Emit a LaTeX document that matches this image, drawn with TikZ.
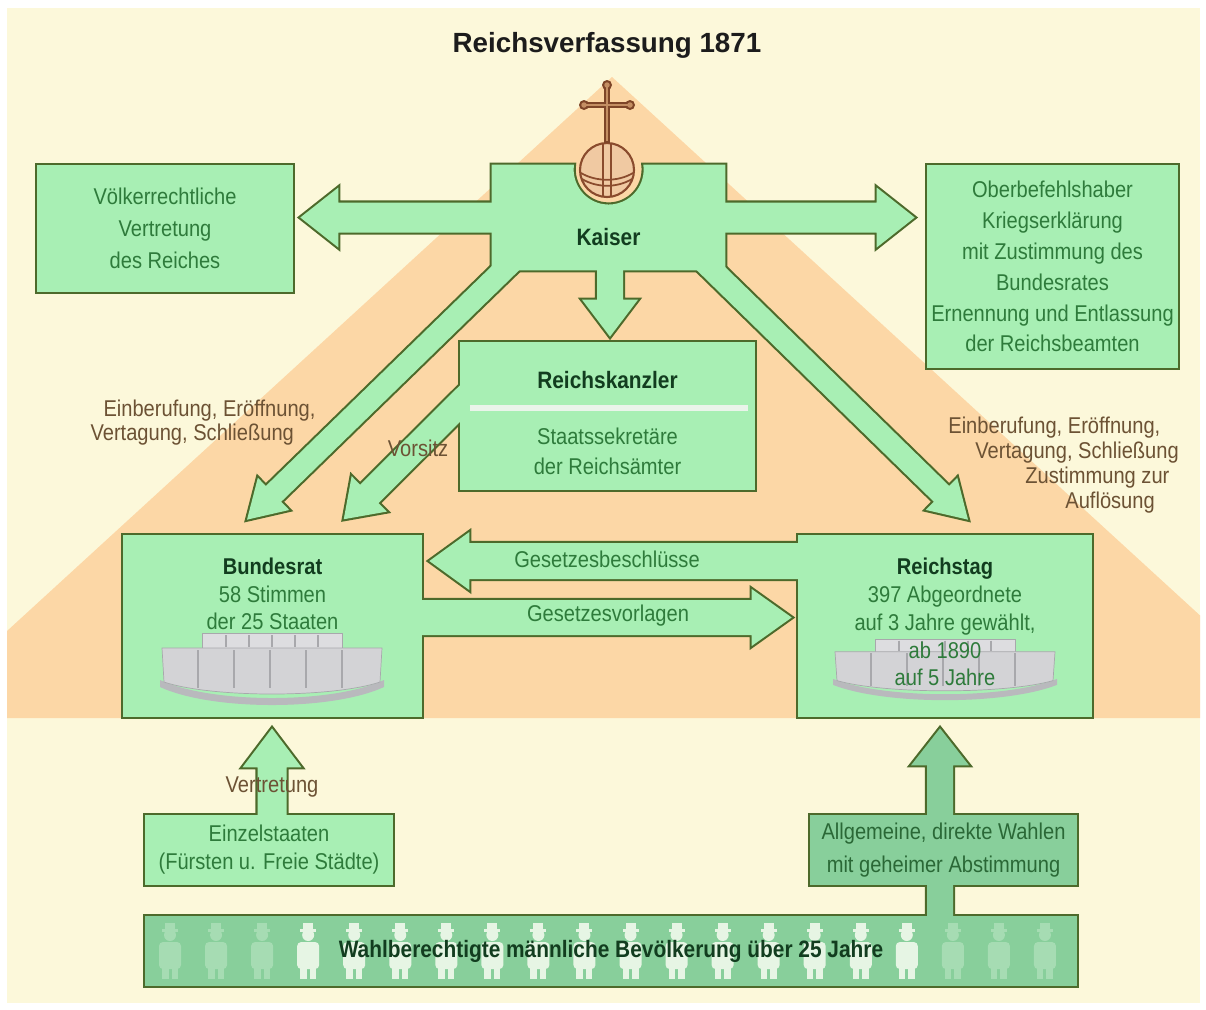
\documentclass[tikz,border=0pt]{standalone}
\usepackage{fontspec}
\setmainfont{Liberation Sans}[FakeStretch=0.88]
\newfontfamily\titlefont{Liberation Sans}
\usetikzlibrary{calc,positioning}

\definecolor{cream}{HTML}{FCF8DA}
\definecolor{peach}{HTML}{FCD7A6}
\definecolor{mint}{HTML}{A8EFB4}
\definecolor{wahlgreen}{HTML}{88CF9B}
\definecolor{edgecol}{HTML}{4D6A2B}
\definecolor{txtgreen}{HTML}{2E7B3B}
\definecolor{wahltext}{HTML}{2A6836}
\definecolor{headgreen}{HTML}{123D1F}
\definecolor{notebrown}{HTML}{6C5234}
\definecolor{titleblack}{HTML}{1C1C1C}
\definecolor{personfade}{HTML}{A6DCB3}
\definecolor{personlight}{HTML}{E6F5E4}
\definecolor{seatfront}{HTML}{D3D3D6}
\definecolor{seatback}{HTML}{DDDDE0}
\definecolor{seatline}{HTML}{A8A8AC}
\definecolor{seatshadow}{HTML}{B9B9BD}
\definecolor{orbfill}{HTML}{F0C9A2}
\definecolor{orbline}{HTML}{8A4B2D}
\definecolor{crossdark}{HTML}{7E4528}
\definecolor{crosslight}{HTML}{C48E63}
\definecolor{sepwhite}{HTML}{EAF4EA}

\pgfdeclarelayer{bg}
\pgfdeclarelayer{outl}
\pgfdeclarelayer{fil}
\pgfdeclarelayer{deco}
\pgfsetlayers{bg,outl,fil,deco,main}

\tikzset{
  blockbox/.style={inner sep=0pt, align=center, text=txtgreen, font=\fontsize{13}{17.5}\selectfont},
  headtext/.style={inner sep=0pt, text=headgreen, font=\fontsize{13.5}{16}\selectfont\bfseries},
  bodytext/.style={inner sep=0pt, align=center, text=txtgreen, font=\fontsize{13}{17}\selectfont},
  notetext/.style={inner sep=0pt, align=left, text=notebrown, font=\fontsize{13}{14}\selectfont},
  edgeline/.style={draw=edgecol, line width=2.4pt, line join=miter},
  seatsep/.style={draw=seatline, line width=0.6pt},
}

% outline below, filling above: touching shapes merge
\newcommand\blockshape[2]{%
  \begin{pgfonlayer}{outl}\draw[edgeline] #2;\end{pgfonlayer}
  \begin{pgfonlayer}{fil}\fill[#1] #2;\end{pgfonlayer}}

% [fill] from, to, half shaft, half head, head length
\newcommand\fatarrow[6][mint]{%
  \blockshape{#1}{let \p1=(#2), \p2=(#3), \n1={atan2(\y2-\y1,\x2-\x1)}, \n2={veclen(\x2-\x1,\y2-\y1)} in
    [shift={(\p1)}, rotate=\n1] (0pt,-#4) -- ({\n2*1pt-#6},-#4) -- ({\n2*1pt-#6},-#5) -- ({\n2*1pt},0pt)
    -- ({\n2*1pt-#6},#5) -- ({\n2*1pt-#6},#4) -- (0pt,#4) -- cycle}}

\newcommand\seats[2]{%
  \begin{scope}[shift={(#1)}, yscale=#2]
    \fill[seatshadow] (-112,14) .. controls (-60,38) and (60,38) .. (112,14) -- (112,21) .. controls (60,45) and (-60,45) .. (-112,21) -- cycle;
    \filldraw[fill=seatback, draw=seatline, line width=0.4pt] (-70,-33) rectangle (70,-17);
    \foreach \seatx in {-46,-23,0,23,46} \draw[seatsep] (\seatx,-31) -- (\seatx,-19);
    \filldraw[fill=seatfront, draw=seatline, line width=0.4pt] (-110,-18) -- (110,-18) -- (108,16) .. controls (60,32) and (-60,32) .. (-108,16) -- cycle;
    \foreach \seatx in {-74,-38,-2,34,70} \draw[seatsep] (\seatx,-16) -- (\seatx,22);
  \end{scope}}

\newcommand\person[2]{%
  \begin{scope}[shift={(#1,951)}]
    \fill[#2] (0,-16) circle[radius=0.12cm];
    \fill[#2] (-5,-28) rectangle (5,-21);
    \fill[#2] (-8,-22) rectangle (8,-19);
    \fill[#2, rounded corners=0.08cm] (-11,-9) rectangle (11,18);
    \fill[#2] (-8,17) rectangle (-1.5,28);
    \fill[#2] (1.5,17) rectangle (8,28);
  \end{scope}}

\begin{document}
\begin{tikzpicture}[x=0.02cm, y=-0.02cm]
  \useasboundingbox (0,0) rectangle (1206,1009);
  %background
  \begin{pgfonlayer}{bg}
    \fill[white] (0,0) rectangle (1206,1009);
    \fill[cream] (7,8) rectangle (1200,1003);
    \begin{scope}
      \clip (7,8) rectangle (1200,1003);
      \fill[peach] (612,77) -- (1312,718) -- (-88,718) -- cycle;
    \end{scope}
  \end{pgfonlayer}

  %nodes
  \node[font=\titlefont\bfseries\fontsize{15.8}{18}\selectfont, text=titleblack] (titel) at (607,45) {Reichsverfassung 1871};
  \node[blockbox, minimum width=5.12cm, minimum height=2.54cm, font=\fontsize{13}{18.2}\selectfont] (voelker) at (165,228.5) {Völkerrechtliche\\Vertretung\\des Reiches};
  \node[blockbox, minimum width=5.02cm, minimum height=4.06cm, font=\fontsize{13}{17.6}\selectfont] (befehl) at (1052.5,266.5) {Oberbefehlshaber\\Kriegserklärung\\mit Zustimmung des\\Bundesrates\\Ernennung und Entlassung\\der Reichsbeamten};
  \node[blockbox, minimum width=4.66cm, minimum height=2.1cm] (kaiser) at (608.5,217.5) {};
  \node[blockbox, minimum width=5.9cm, minimum height=2.96cm] (kanzler) at (607.5,416) {};
  \node[blockbox, minimum width=5.98cm, minimum height=3.64cm] (bundesrat) at (272.5,626) {};
  \node[blockbox, minimum width=5.88cm, minimum height=3.64cm] (reichstag) at (945,626) {};
  \node[blockbox, minimum width=4.96cm, minimum height=1.4cm, font=\fontsize{13}{16}\selectfont] (einzel) at (269,850) {Einzelstaaten\\(Fürsten u. Freie Städte)};
  \node[blockbox, minimum width=5.34cm, minimum height=1.4cm, font=\fontsize{13}{18.8}\selectfont, text=wahltext] (wahlen) at (943.5,850) {Allgemeine, direkte Wahlen\\mit geheimer Abstimmung};
  \node[blockbox, minimum width=18.64cm, minimum height=1.4cm, text=headgreen, font=\fontsize{13.5}{16}\selectfont\bfseries] (volk) at (611,951) {Wahlberechtigte männliche Bevölkerung über 25 Jahre};

  \node[headtext] (kaisertext) at ($(kaiser.north)+(0,72)$) {Kaiser};
  \node[headtext] (kanzlerhead) at ($(kanzler.north)+(0,38)$) {Reichskanzler};
  \node[bodytext] (kanzlersub) at ($(kanzler.north)+(0,110)$) {Staatssekretäre\\der Reichsämter};
  \node[bodytext, font=\fontsize{13}{15.6}\selectfont] (bundesrattext) at ($(bundesrat.north)+(0,59.5)$) {\textcolor{headgreen}{\bfseries Bundesrat}\\58 Stimmen\\der 25 Staaten};
  \node[bodytext, font=\fontsize{13}{15.8}\selectfont] (reichstagtext) at ($(reichstag.north)+(0,87.5)$) {\textcolor{headgreen}{\bfseries Reichstag}\\397 Abgeordnete\\auf 3 Jahre gewählt,\\ab 1890\\auf 5 Jahre};

  \node[bodytext] (beschluss) at (607,559) {Gesetzesbeschlüsse};
  \node[bodytext] (vorlagen) at (608,616) {Gesetzesvorlagen};
  \node[notetext] (vorsitz) at (418,448) {Vorsitz};
  \node[notetext] (vertretung) at (272,787) {Vertretung};
  \node[notetext, font=\fontsize{13}{13.7}\selectfont] (einblinks) at (203,423) {\hspace*{7.4pt}Einberufung, Eröffnung,\\Vertagung, Schließung};
  \node[notetext, anchor=west, font=\fontsize{13}{14.2}\selectfont] (einbrechts) at (948,465.5) {Einberufung, Eröffnung,\\\hspace*{15.4pt}Vertagung, Schließung\\\hspace*{43.8pt}Zustimmung zur\\\hspace*{66.6pt}Auflösung};

  %boxes
  \blockshape{mint}{(voelker.south west) rectangle (voelker.north east)}
  \blockshape{mint}{(befehl.south west) rectangle (befehl.north east)}
  \blockshape{mint}{(kaiser.north west) -- ($(kaiser.north)+(-0.69cm,0pt)$) arc[start angle=172, end angle=368, radius=0.7cm] -- (kaiser.north east) -- (kaiser.south east) -- (kaiser.south west) -- cycle}
  \blockshape{mint}{(kanzler.south west) rectangle (kanzler.north east)}
  \blockshape{mint}{(bundesrat.south west) rectangle (bundesrat.north east)}
  \blockshape{mint}{(reichstag.south west) rectangle (reichstag.north east)}
  \blockshape{mint}{(einzel.south west) rectangle (einzel.north east)}
  \blockshape{wahlgreen}{(wahlen.south west) rectangle (wahlen.north east)}
  \blockshape{wahlgreen}{(volk.south west) rectangle (volk.north east)}

  %edges
  \fatarrow{$(kaiser.west)+(8,0)$}{$(voelker.east |- kaiser.west)+(7,0)$}{0.3cm}{0.6cm}{0.76cm}
  \fatarrow{$(kaiser.east)+(-8,0)$}{$(befehl.west |- kaiser.east)+(-12,0)$}{0.3cm}{0.6cm}{0.76cm}
  \fatarrow{$(kaiser.south)+(1.5,-8)$}{$(kanzler.north)+(2.5,-5)$}{0.26cm}{0.56cm}{0.74cm}
  \fatarrow{$(kaiser.south west)+(27,-15)$}{$(bundesrat.north)+(-25.5,-15)$}{0.22cm}{0.45cm}{0.74cm}
  \fatarrow{$(kaiser.south east)+(-28,-15)$}{$(reichstag.north)+(23,-15)$}{0.22cm}{0.45cm}{0.74cm}
  \fatarrow{$(kanzler.west)+(20,-32)$}{$(bundesrat.north east)+(-79,-15)$}{0.26cm}{0.5cm}{0.72cm}
  \fatarrow{$(reichstag.west)+(8,-65)$}{$(bundesrat.east)+(7,-65)$}{0.36cm}{0.58cm}{0.8cm}
  \fatarrow{$(bundesrat.east)+(-8,-8.5)$}{$(reichstag.west)+(-6,-8.5)$}{0.35cm}{0.57cm}{0.8cm}
  \fatarrow{$(einzel.north)+(3,8)$}{$(bundesrat.south)+(-0.5,11)$}{0.29cm}{0.59cm}{0.78cm}
  \fatarrow[wahlgreen]{$(wahlen.north |- volk.north)+(-3.5,10)$}{$(reichstag.south)+(-5,11)$}{0.26cm}{0.58cm}{0.74cm}

  %pictures
  \begin{pgfonlayer}{deco}
    \draw[sepwhite, line width=0.12cm] ($(kanzler.west)+(10,-8)$) -- ($(kanzler.east)+(-7,-8)$);
    \seats{272,666}{1}
    \seats{945,667}{0.85}
    \foreach \i in {0,...,19}{
      \pgfmathsetmacro\personx{170+46.05*\i}
      \ifnum\i<3 \def\pcol{personfade}\else\ifnum\i>16 \def\pcol{personfade}\else\def\pcol{personlight}\fi\fi
      \person{\personx}{\pcol}
    }
    % orb and cross
    \filldraw[fill=orbfill, draw=orbline, line width=1.2pt] (607,170) circle[radius=0.54cm];
    \draw[orbline, line width=1pt] (581,173) .. controls (596,182) and (618,182) .. (633,173);
    \draw[orbline, line width=1pt] (582,179) .. controls (597,188) and (617,188) .. (632,179);
    \draw[orbline, line width=1pt] (603,143) -- (603,197) (611,143) -- (611,197);
    \fill[crossdark] (607,85) circle[radius=0.1cm] (584,105) circle[radius=0.1cm] (630,105) circle[radius=0.1cm];
    \draw[crossdark, line width=0.13cm] (607,143) -- (607,86) (585,105) -- (629,105);
    \fill[crosslight] (607,85) circle[radius=0.055cm] (584,105) circle[radius=0.055cm] (630,105) circle[radius=0.055cm];
    \draw[crosslight, line width=0.055cm] (607,141) -- (607,86) (585,105) -- (629,105);
  \end{pgfonlayer}
\end{tikzpicture}
\end{document}
